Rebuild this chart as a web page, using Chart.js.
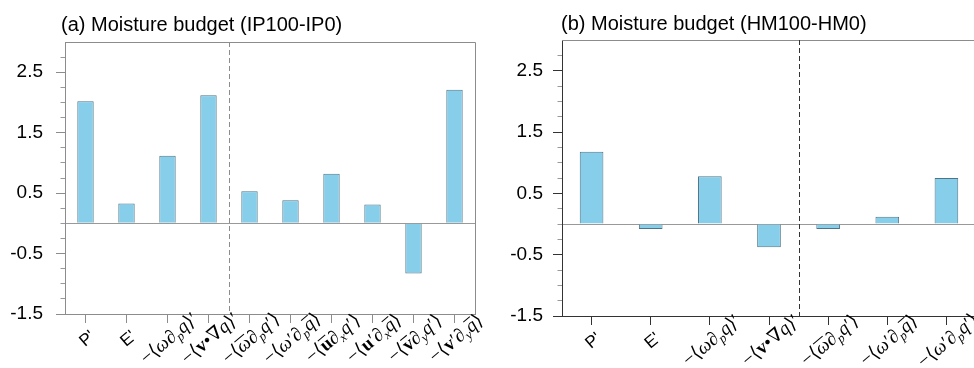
<!DOCTYPE html>
<html>
<head>
<meta charset="utf-8">
<script src="https://cdn.jsdelivr.net/npm/chart.js@4"></script>
<style>
  html, body { margin: 0; padding: 0; background: #fff; overflow: hidden; width: 974px; height: 368px; }
  #wrapA { position: absolute; left: 0; top: 0; width: 487px; height: 368px; }
  #wrapB { position: absolute; left: 487px; top: 0; width: 500px; height: 368px; }
</style>
</head>
<body>
<div id="wrapA"><canvas id="chartA"></canvas></div>
<div id="wrapB"><canvas id="chartB"></canvas></div>
<script>
// label markup: _c subscript, ~c overbar, *c bold
const labelsA = ["P'", "E'", "−⟨ω∂_pq⟩′", "−⟨*v•∇q⟩′", "−⟨~ω∂_pq′⟩", "−⟨ω′∂_p~q⟩", "−⟨~*u∂_xq′⟩", "−⟨*u′∂_x~q⟩", "−⟨~*v∂_yq′⟩", "−⟨*v′∂_y~q⟩"];
const valuesA = [2.02, 0.33, 1.12, 2.12, 0.53, 0.38, 0.82, 0.31, -0.83, 2.21];
const labelsB = ["P'", "E'", "−⟨ω∂_pq⟩′", "−⟨*v•∇q⟩′", "−⟨~ω∂_pq′⟩", "−⟨ω′∂_p~q⟩", "−⟨ω′∂_pq′⟩"];
const valuesB = [1.18, -0.08, 0.78, -0.38, -0.08, 0.12, 0.75];
const yMajor = [-1.5, -0.5, 0.5, 1.5, 2.5];
const yMinor = [-1.25, -1, -0.75, -0.25, 0, 0.25, 0.75, 1, 1.25, 1.75, 2, 2.25, 2.75];

function parseLabel(s) {
  const segs = [];
  let bar = false, bold = false, sub = false;
  for (const ch of s) {
    if (ch === '~') { bar = true; continue; }
    if (ch === '*') { bold = true; continue; }
    if (ch === '_') { sub = true; continue; }
    segs.push({ ch, bar, bold, sub });
    bar = bold = sub = false;
  }
  return segs;
}

function segFont(s) {
  const size = s.sub ? 13 : 19;
  const fam = '"Liberation Serif", "DejaVu Serif", serif';
  if (s.bold) return 'bold ' + size + 'px ' + fam;
  if (/[a-zω]/.test(s.ch)) return 'italic ' + size + 'px ' + fam;
  return size + 'px ' + fam;
}

const mathLabels = {
  id: 'mathLabels',
  afterDraw(chart) {
    const ctx = chart.ctx, xs = chart.scales.x;
    ctx.save();
    ctx.fillStyle = '#000';
    chart.data.labels.forEach((lab, i) => {
      ctx.save();
      ctx.translate(xs.getPixelForTick(i) + 2, xs.bottom + 16);
      ctx.rotate(-40 * Math.PI / 180);
      if (/^[A-Z]'$/.test(lab)) {
        ctx.font = '17px "Liberation Sans"';
        ctx.textAlign = 'center';
        ctx.textBaseline = 'middle';
        ctx.fillText(lab, 0, 0);
      } else {
        const segs = parseLabel(lab);
        segs.forEach(s => { s.font = segFont(s); ctx.font = s.font; s.w = ctx.measureText(s.ch).width; });
        const W = segs.reduce((a, s) => a + s.w, 0);
        let x = -W / 2;
        const base = 5;
        segs.forEach(s => {
          ctx.font = s.font;
          ctx.fillText(s.ch, x, base + (s.sub ? 4 : 0));
          if (s.bar) ctx.fillRect(x + 1, base - 14, s.w - 1, 1);
          x += s.w;
        });
      }
      ctx.restore();
    });
    ctx.restore();
  }
};

const frame = {
  id: 'frame',
  afterDraw(chart, args, o) {
    const ctx = chart.ctx, a = chart.chartArea, xs = chart.scales.x;
    ctx.save();
    ctx.lineWidth = 1;
    ctx.strokeStyle = o.frameColor;
    ctx.beginPath();
    ctx.moveTo(a.left, a.top + 0.5);
    ctx.lineTo(a.right + 0.5, a.top + 0.5);
    ctx.lineTo(a.right + 0.5, a.bottom);
    ctx.stroke();
    const sx = Math.round((xs.getPixelForValue(3) + xs.getPixelForValue(4)) / 2) + 0.5;
    ctx.strokeStyle = o.sepColor;
    ctx.setLineDash([5, 3]);
    ctx.beginPath();
    ctx.moveTo(sx, a.top);
    ctx.lineTo(sx, a.bottom);
    ctx.stroke();
    ctx.restore();
  }
};

const panelTitle = {
  id: 'panelTitle',
  afterDraw(chart, args, o) {
    const ctx = chart.ctx;
    ctx.save();
    ctx.font = '20px "Liberation Sans"';
    ctx.fillStyle = '#000';
    ctx.textBaseline = 'alphabetic';
    ctx.fillText(o.text, chart.chartArea.left + o.dx, o.y);
    ctx.restore();
  }
};

function makeChart(id, labels, values, p) {
  return new Chart(document.getElementById(id), {
    type: 'bar',
    data: {
      labels: labels,
      datasets: [{
        data: values,
        backgroundColor: '#87ceeb',
        borderColor: '#4d7587',
        borderWidth: 1,
        barPercentage: 0.4,
        categoryPercentage: 1.0
      }]
    },
    options: {
      responsive: true,
      maintainAspectRatio: false,
      animation: false,
      layout: { padding: p.padding },
      plugins: {
        legend: { display: false },
        tooltip: { enabled: false },
        panelTitle: { text: p.title, dx: p.titleDx, y: p.titleY },
        frame: { frameColor: '#8c8c8c', sepColor: p.sepColor }
      },
      scales: {
        x: {
          offset: true,
          grid: { drawOnChartArea: false, offset: false, tickLength: 9, tickColor: p.axisColor },
          ticks: { display: false },
          border: { color: p.axisColor, width: 1 }
        },
        y: {
          min: -1.5,
          max: 3.0,
          afterBuildTicks: s => { s.ticks = yMajor.concat(yMinor).sort((a, b) => a - b).map(v => ({ value: v })); },
          afterFit: s => { s.width = p.axisW; },
          ticks: {
            autoSkip: false,
            padding: p.labelPad,
            color: '#000',
            font: { family: '"Liberation Sans"', size: 19 },
            callback: v => yMajor.includes(v) ? String(v) : ''
          },
          grid: {
            tickLength: 9,
            color: c => (c.tick && c.tick.value === 0) ? '#999' : 'rgba(0,0,0,0)',
            tickColor: c => (c.tick && yMajor.includes(c.tick.value)) ? p.axisColor : '#999',
            tickBorderDash: c => (c.tick && yMajor.includes(c.tick.value)) ? [] : [0, 4.5, 5, 50]
          },
          border: { color: p.axisColor, width: 1 }
        }
      }
    },
    plugins: [mathLabels, frame, panelTitle]
  });
}

makeChart('chartA', labelsA, valuesA, {
  padding: { left: 0, right: 12, top: 42, bottom: 45 },
  axisW: 65, labelPad: 13, axisColor: '#8c8c8c', sepColor: '#8c8c8c',
  title: '(a) Moisture budget (IP100-IP0)', titleDx: -4, titleY: 31
});
makeChart('chartB', labelsB, valuesB, {
  padding: { left: 0, right: 11, top: 40, bottom: 43 },
  axisW: 75, labelPad: 10, axisColor: '#333', sepColor: '#333',
  title: '(b) Moisture budget (HM100-HM0)', titleDx: -1, titleY: 30
});
</script>
</body>
</html>
